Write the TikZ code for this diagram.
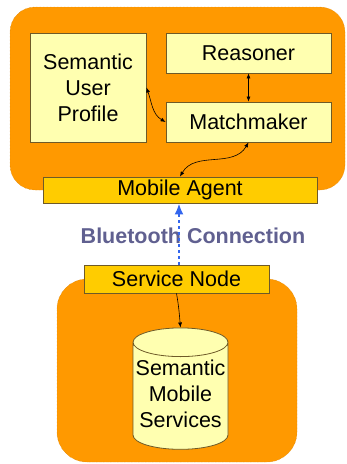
\documentclass[tikz,border=0pt]{standalone}
\usepackage{fontspec}
\setmainfont{Liberation Sans}
\usetikzlibrary{arrows.meta,shapes.geometric}

\definecolor{hostorange}{HTML}{FF9900}
\definecolor{paleyellow}{HTML}{FFFFB0}
\definecolor{gold}{HTML}{FFCC00}
\definecolor{edgebrown}{HTML}{6E5A28}
\definecolor{linkblue}{HTML}{3366EE}
\definecolor{slate}{HTML}{606090}

\tikzset{
    host/.style={fill=hostorange, draw=hostorange!80!black, densely dotted, line width=0.4pt},
    module/.style={fill=paleyellow, draw=edgebrown, line width=0.8pt, align=center,
        font=\fontsize{21.5}{26}\selectfont, inner sep=0pt},
    bar/.style={module, fill=gold},
    store/.style={module, cylinder, shape border rotate=90, aspect=0.32},
    link/.style={{Latex[length=5pt,width=4pt]}-{Latex[length=5pt,width=4pt]}, line width=0.6pt}
}

\begin{document}
\begin{tikzpicture}[x=1pt, y=-1pt]
    \useasboundingbox (0,0) rectangle (347,464);

    % Hosts
    \draw[host, rounded corners=25] (10,7) rectangle (345,190);
    \draw[host, rounded corners=30] (57,279) rectangle (297,462);

    % Phone side
    \node[module, minimum width=116, minimum height=109] (profile) at (88,87.5) {Semantic\\User\\Profile};
    \node[module, minimum width=165, minimum height=40] (reasoner) at (248.5,53) {Reasoner};
    \node[module, minimum width=165, minimum height=40] (matcher) at (248.5,122) {Matchmaker};
    \node[bar, minimum width=274, minimum height=26] (agent) at (180,190) {Mobile Agent};

    % Service side
    \node[bar, minimum width=185, minimum height=28] (service) at (176.5,279) {Service Node};
    \node[store, minimum width=95, minimum height=118] (db) at (180.5,396)
        {\raisebox{-12pt}{\begin{tabular}{@{}c@{}}Semantic\\Mobile\\Services\end{tabular}}};

    % Label
    \node[font=\fontsize{21.5}{26}\selectfont\bfseries, text=slate] (bt) at (193,236) {Bluetooth Connection};

    % Arrows
    \draw[link] (profile.east) to[out=-70, in=150] (matcher.west);
    \draw[link] (reasoner.south) -- (matcher.north);
    \draw[link] (matcher.south) to[out=-120, in=60] (agent.north);
    \draw[-{Latex[length=5pt,width=4pt]}, line width=0.6pt] (service.south) to[out=-80, in=95] (db.north);
    \draw[linkblue, line width=2.5pt, dash pattern=on 2.5pt off 3.5pt, -{Latex[length=11pt,width=9pt]}]
        ([xshift=2.5]service.north) -- ([xshift=-1]agent.south);
\end{tikzpicture}
\end{document}
